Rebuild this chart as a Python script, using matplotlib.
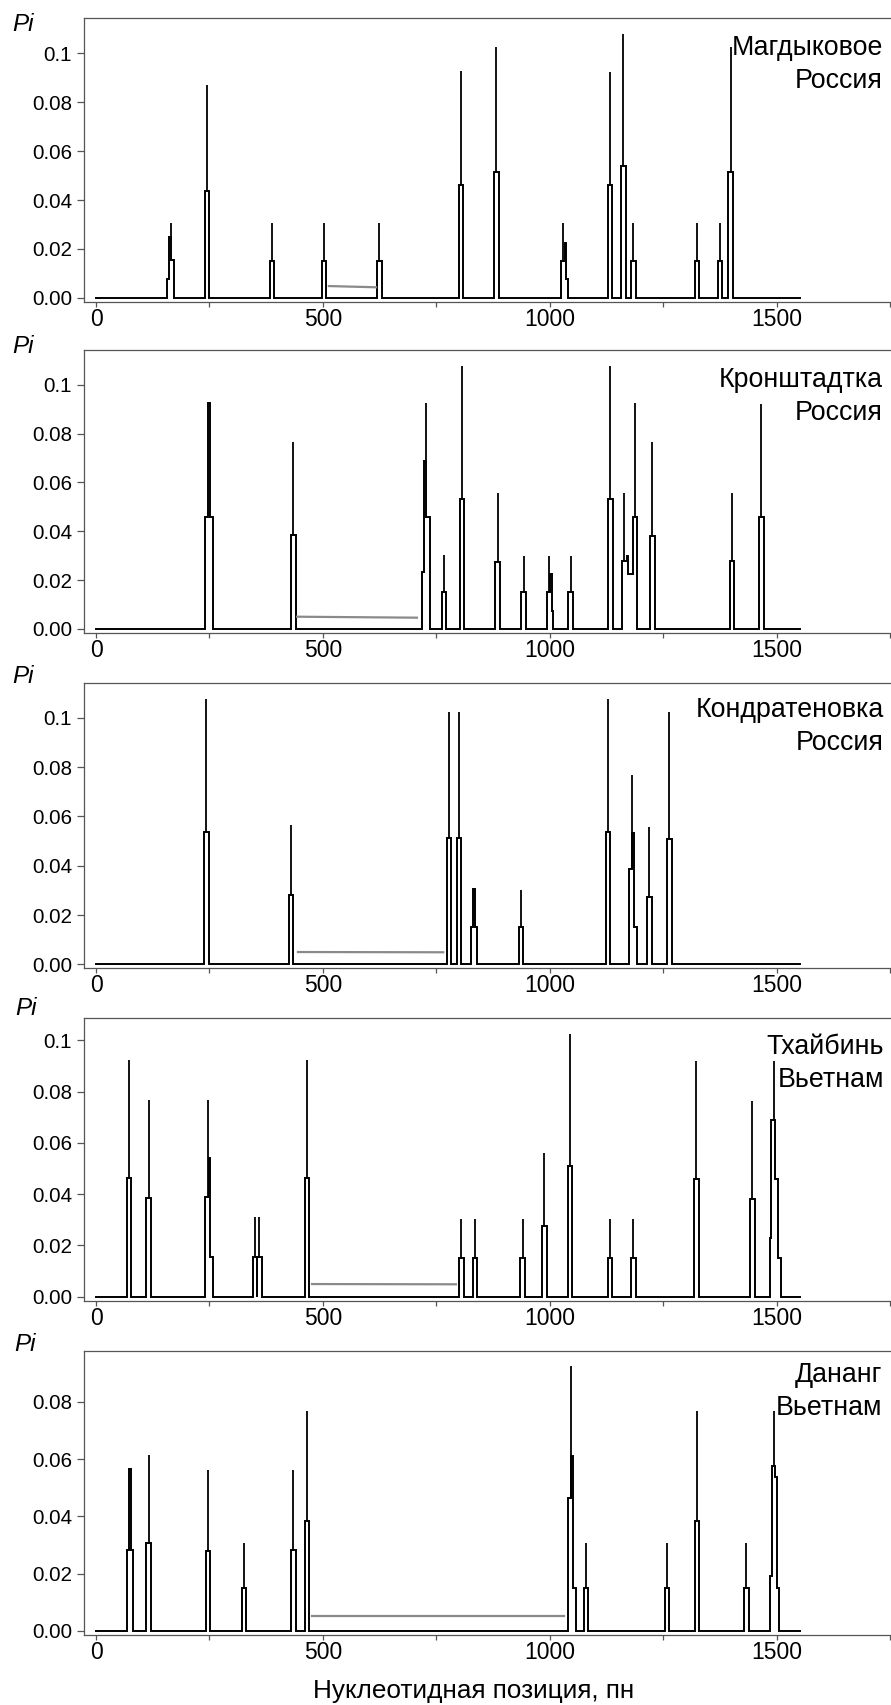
import matplotlib
matplotlib.use("Agg")
import matplotlib.pyplot as plt

W, H = 891, 1705
FONT = ["Liberation Sans", "DejaVu Sans"]
plt.rcParams["font.family"] = FONT

# ---------------- data ----------------
site_labels = ["Магдыковое\nРоссия", "Кронштадтка\nРоссия", "Кондратеновка\nРоссия",
               "Тхайбинь\nВьетнам", "Дананг\nВьетнам"]
seq_start, seq_end = 1, 1550
x_ticks = [0, 500, 1000, 1500]
x_minor = [250, 750, 1250, 1750]
x_label = "Нуклеотидная позиция, пн"
y_label = "Pi"
y_ticks_full = [0.0, 0.02, 0.04, 0.06, 0.08, 0.1]
y_ticklabels_full = ["0.00", "0.02", "0.04", "0.06", "0.08", "0.1"]
y_ticks_last = [0.0, 0.02, 0.04, 0.06, 0.08]
y_ticklabels_last = ["0.00", "0.02", "0.04", "0.06", "0.08"]

# sliding-window Pi plateaus: (start, end, Pi)
magd_steps = [(156, 160, 0.0077), (160, 166, 0.025), (166, 171, 0.0154),
              (240, 250, 0.0437), (383, 393, 0.0152), (497, 507, 0.0152),
              (619, 629, 0.0152), (799, 809, 0.0461), (877, 887, 0.0513),
              (1025, 1033, 0.0151), (1033, 1036, 0.0226), (1036, 1040, 0.0075),
              (1127, 1137, 0.0461), (1157, 1167, 0.054), (1179, 1189, 0.0151),
              (1319, 1329, 0.0151), (1370, 1380, 0.0151), (1393, 1403, 0.0513)]
magd_spikes = [(165, 0.0307), (245, 0.087), (388, 0.0304), (502, 0.0304), (624, 0.0304),
               (804, 0.0928), (882, 0.1027), (1030, 0.0307), (1132, 0.0925),
               (1162, 0.108), (1184, 0.0304), (1324, 0.0304), (1375, 0.0304), (1398, 0.1027)]

kron_steps = [(241, 246, 0.046), (246, 251, 0.0925), (251, 257, 0.046),
              (430, 440, 0.0383),
              (718, 722, 0.0235), (722, 728, 0.069), (728, 735, 0.046),
              (762, 772, 0.0153), (801, 811, 0.0533), (880, 890, 0.0273),
              (937, 947, 0.015),
              (993, 1001, 0.015), (1001, 1004, 0.0223), (1004, 1007, 0.0075),
              (1041, 1051, 0.015), (1128, 1139, 0.0533),
              (1159, 1171, 0.0277), (1171, 1173, 0.030), (1173, 1183, 0.0223),
              (1183, 1192, 0.0458),
              (1221, 1231, 0.038), (1396, 1406, 0.0277), (1461, 1471, 0.0458)]
kron_spikes = [(435, 0.0768), (728, 0.0925), (767, 0.0303), (806, 0.1077), (885, 0.0557),
               (942, 0.030), (998, 0.030), (1046, 0.030), (1133, 0.1077),
               (1164, 0.0557), (1187, 0.0925), (1226, 0.0765), (1401, 0.0557),
               (1466, 0.0922)]

kond_steps = [(238, 248, 0.0538), (425, 435, 0.0281), (773, 783, 0.0511),
              (795, 805, 0.0511),
              (826, 831, 0.015), (831, 836, 0.0305), (836, 840, 0.015),
              (931, 941, 0.015), (1123, 1133, 0.0535),
              (1175, 1181, 0.0386), (1181, 1186, 0.0531), (1186, 1191, 0.015),
              (1214, 1224, 0.0274), (1258, 1268, 0.051)]
kond_spikes = [(243, 0.1078), (430, 0.0565), (778, 0.1024), (800, 0.1024), (936, 0.0303),
               (1128, 0.1076), (1180, 0.0768), (1219, 0.0559), (1263, 0.1024)]

thai_steps = [(68, 78, 0.0462), (111, 121, 0.0384),
              (241, 249.5, 0.0388), (249.5, 252, 0.054), (252, 257, 0.0153),
              (346, 354, 0.0153), (355, 366, 0.0153),
              (460, 470, 0.0462), (800, 810, 0.015), (830, 840, 0.015),
              (935, 945, 0.015), (983, 993, 0.0276), (1040, 1049, 0.051),
              (1127, 1137, 0.015), (1179, 1189, 0.015), (1318, 1328, 0.046),
              (1441, 1451, 0.038),
              (1484, 1487, 0.023), (1487, 1495, 0.069), (1495, 1503.5, 0.0458),
              (1503.5, 1509.5, 0.015)]
thai_spikes = [(73, 0.0923), (116, 0.0767), (246.5, 0.0767), (350, 0.031), (360, 0.031),
               (465, 0.0923), (805, 0.0302), (835, 0.0302), (940, 0.0302),
               (988, 0.0559), (1044, 0.1023), (1132, 0.0302), (1184, 0.0302),
               (1323, 0.0919), (1446, 0.0763), (1493, 0.092)]

dana_steps = [(68, 72, 0.0283), (72, 77, 0.0564), (77, 82, 0.0283),
              (111, 121, 0.0306), (242, 252, 0.028), (321, 331, 0.0151),
              (430, 440, 0.0283), (460, 470, 0.0384),
              (1040, 1047, 0.0463), (1047, 1052, 0.0612), (1052, 1057, 0.0151),
              (1075, 1085, 0.0151), (1253, 1263, 0.0151), (1319, 1329, 0.0384),
              (1428, 1438, 0.0151),
              (1485, 1489, 0.0192), (1489, 1496, 0.0576), (1496, 1500, 0.0538),
              (1500, 1504, 0.0151)]
dana_spikes = [(116, 0.0614), (247, 0.0562), (326, 0.0306), (435, 0.0562), (465, 0.0769),
               (1045.5, 0.0926), (1080, 0.0306), (1258, 0.0306), (1324, 0.0769),
               (1433, 0.0306), (1494, 0.0769)]

# grey gap lines: (x_start, x_end, y_start, y_end)
gap_lines = [(513, 617, 0.0048, 0.0043), (443, 707, 0.0050, 0.0046),
             (445, 765, 0.0050, 0.0049), (476, 793, 0.0049, 0.0048),
             (476, 1031, 0.0052, 0.0052)]

all_steps = [magd_steps, kron_steps, kond_steps, thai_steps, dana_steps]
all_spikes = [magd_spikes, kron_spikes, kond_spikes, thai_spikes, dana_spikes]

# ---------------- layout (pixels) ----------------
panel_top = [17.7, 350.0, 683.3, 1018.3, 1350.7]
panel_bot = [301.7, 633.3, 968.3, 1300.7, 1635.0]
ylims = [(-0.0016, 0.1146), (-0.0018, 0.1143), (-0.0016, 0.114),
         (-0.0016, 0.1086), (-0.0014, 0.0978)]
label_base_last = [88.3, 420.0, 750.0, 1086.7, 1415.0]
label_right = [883, 883, 884, 884, 882]
pi_base = [30.7, 353.3, 683.3, 1015.0, 1351.0]
pi_left = [12.5, 12.5, 12.5, 15.0, 14.0]
ax_left = 84.0
xlim = (-26.5, 1756)
spine_col = "#555555"


def step_path(steps):
    xs, ys = [seq_start], [0.0]
    prev_end = None
    for s, e, v in sorted(steps):
        if prev_end is None or s > prev_end + 1e-9:
            if prev_end is not None:
                xs.append(prev_end)
                ys.append(0.0)
            xs += [s, s]
            ys += [0.0, v]
        else:
            xs.append(s)
            ys.append(v)
        xs.append(e)
        ys.append(v)
        prev_end = e
    xs += [prev_end, seq_end]
    ys += [0.0, 0.0]
    return xs, ys


def level_at(steps, x):
    for s, e, v in steps:
        if s <= x <= e:
            return v
    return 0.0


fig = plt.figure(figsize=(W / 100, H / 100), dpi=100)

for i in range(5):
    t, b = panel_top[i], panel_bot[i]
    ax = fig.add_axes([ax_left / W, 1 - b / H, (W + 2 - ax_left) / W, (b - t) / H])
    xs, ys = step_path(all_steps[i])
    ax.plot(xs, ys, color="black", lw=1.4, solid_joinstyle="miter")
    sx = [p for p, _ in all_spikes[i]]
    lo = [level_at(all_steps[i], p) for p in sx]
    hi = [h for _, h in all_spikes[i]]
    ax.vlines(sx, lo, hi, color="black", lw=1.3)
    g = gap_lines[i]
    ax.plot([g[0], g[1]], [g[2], g[3]], color="#8a8a8a", lw=1.6)

    ax.set_xlim(*xlim)
    ax.set_ylim(*ylims[i])
    ax.set_xticks(x_ticks)
    ax.set_xticklabels([str(v) for v in x_ticks])
    ax.set_xticks(x_minor, minor=True)
    if i < 4:
        ax.set_yticks(y_ticks_full)
        ax.set_yticklabels(y_ticklabels_full)
    else:
        ax.set_yticks(y_ticks_last)
        ax.set_yticklabels(y_ticklabels_last)
    ax.tick_params(axis="y", direction="out", length=5.4, width=0.9, color=spine_col,
                   pad=3.1, labelsize=14.8, labelcolor="black")
    ax.tick_params(axis="x", which="both", direction="out", length=3.5, width=0.9,
                   color=spine_col, pad=0.8, labelsize=16.5, labelcolor="black")
    for sp in ["left", "top", "bottom"]:
        ax.spines[sp].set_color(spine_col)
        ax.spines[sp].set_linewidth(0.9)
    ax.spines["right"].set_visible(False)

    fig.text(label_right[i] / W, 1 - label_base_last[i] / H, site_labels[i], ha="right",
             va="baseline", fontsize=19.3, linespacing=1.35, multialignment="right")
    fig.text(pi_left[i] / W, 1 - pi_base[i] / H, y_label, ha="left", va="baseline",
             fontsize=17.5, style="italic")

fig.text(474 / W, 1 - 1698 / H, x_label, ha="center", va="baseline", fontsize=18.8)

fig.savefig("out.png", dpi=100)
